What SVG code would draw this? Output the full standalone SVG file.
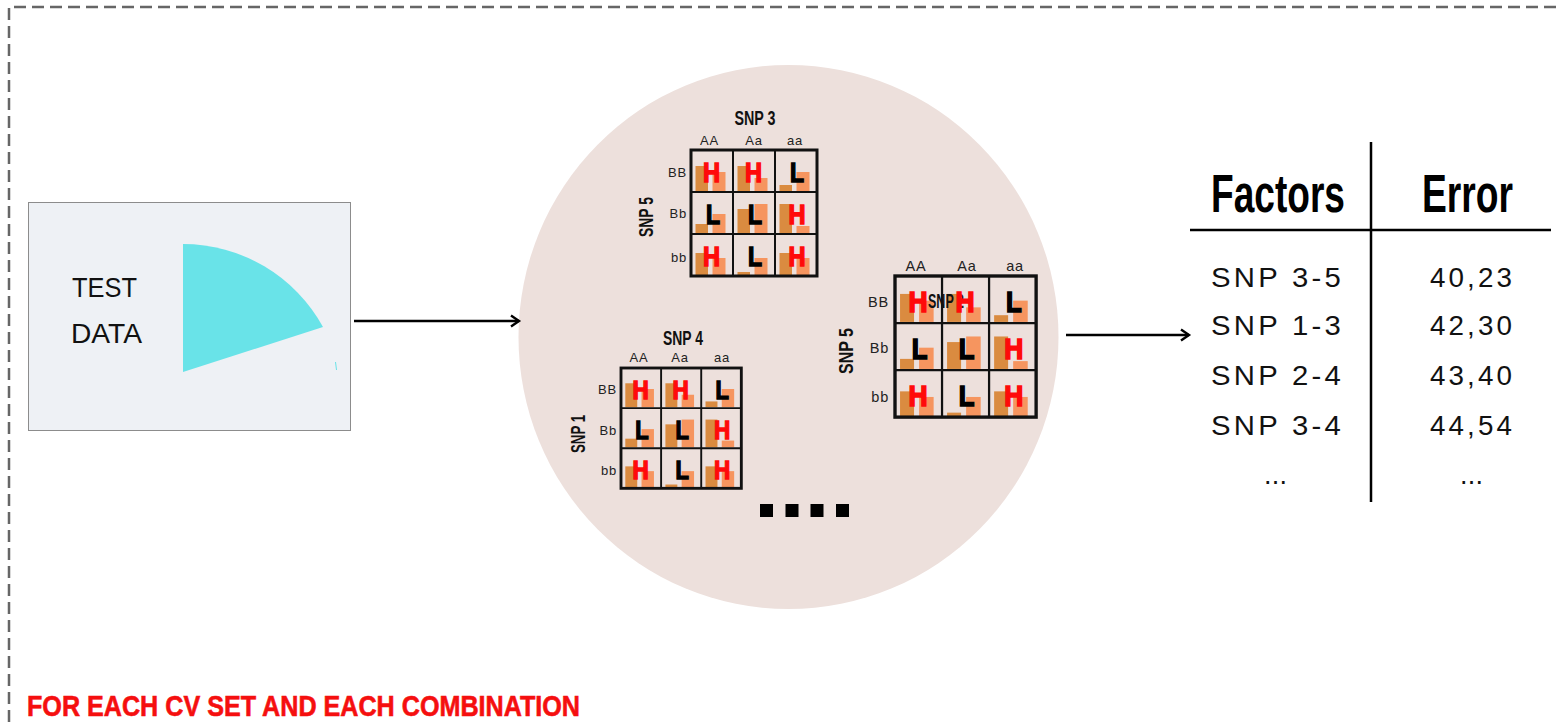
<svg xmlns="http://www.w3.org/2000/svg" xmlns:xlink="http://www.w3.org/1999/xlink" width="1558" height="727" viewBox="0 0 1558 727">
  <style>
    .frame { fill: none; stroke: #666; stroke-width: 2.5; stroke-dasharray: 12 6; }
    .conn { fill: none; stroke: #000; stroke-width: 2.6; }
    .sans { font-family: "Liberation Sans", Arial, sans-serif; }
    .snp { font-family: "Liberation Sans", Arial, sans-serif; font-weight: bold; font-size: 21px; fill: #111; text-anchor: middle; }
    .snp-start { font-family: "Liberation Sans", Arial, sans-serif; font-weight: bold; font-size: 21px; fill: #111; text-anchor: start; }
    .gt { font-family: "Liberation Sans", Arial, sans-serif; font-size: 13px; letter-spacing: 0.8px; fill: #222; }
    .gt3 { font-family: "Liberation Sans", Arial, sans-serif; font-size: 14.5px; letter-spacing: 0.8px; fill: #222; }
    .dark { fill: #da8b40; }
    .light { fill: #f6955f; }
    .hi { font-family: "Liberation Sans", Arial, sans-serif; font-weight: bold; font-size: 27px; fill: #ff0a0a; stroke: #ff0a0a; stroke-width: 1.5; text-anchor: middle; }
    .lo { font-family: "Liberation Sans", Arial, sans-serif; font-weight: bold; font-size: 27px; fill: #000; stroke: #000; stroke-width: 1.5; text-anchor: middle; }
    .head { font-family: "Liberation Sans", Arial, sans-serif; font-weight: bold; font-size: 54px; fill: #000; }
    .cell { font-family: "Liberation Sans", Arial, sans-serif; font-size: 27px; letter-spacing: 3px; fill: #111; }
  </style>
  <defs>
    <marker id="chev" markerUnits="userSpaceOnUse" markerWidth="14" markerHeight="14" refX="11" refY="7" orient="auto">
      <path d="M3,1.5 L11,7 L3,12.5" fill="none" stroke="#000" stroke-width="2.4"/>
    </marker>
    <!-- 3x3 genotype matrix, unit cell 42 -->
    <g id="mx-bars">
      <rect class="dark" x="4.5" y="16" width="12.5" height="25"/>
      <rect class="light" x="21.5" y="22" width="13" height="19"/>
      <rect class="dark" x="46.5" y="16" width="12.5" height="25"/>
      <rect class="light" x="63.5" y="28" width="13" height="13"/>
      <rect class="dark" x="88.5" y="35" width="12.5" height="6"/>
      <rect class="light" x="105.5" y="22" width="13" height="19"/>

      <rect class="dark" x="4.5" y="74" width="12.5" height="9"/>
      <rect class="light" x="21.5" y="64" width="13" height="19"/>
      <rect class="dark" x="46.5" y="59" width="12.5" height="24"/>
      <rect class="light" x="63.5" y="54" width="13" height="29"/>
      <rect class="dark" x="88.5" y="54" width="12.5" height="29"/>
      <rect class="light" x="105.5" y="76" width="13" height="7"/>

      <rect class="dark" x="4.5" y="103" width="12.5" height="22"/>
      <rect class="light" x="21.5" y="108" width="13" height="17"/>
      <rect class="dark" x="46.5" y="122" width="12.5" height="3"/>
      <rect class="light" x="63.5" y="108" width="13" height="17"/>
      <rect class="dark" x="88.5" y="103" width="12.5" height="22"/>
      <rect class="light" x="105.5" y="108" width="13" height="17"/>

      <g fill="none" stroke="#111">
        <rect x="0" y="0" width="126" height="126" stroke-width="3"/>
        <path d="M42,0 V126 M84,0 V126 M0,42 H126 M0,84 H126" stroke-width="2"/>
      </g>
    </g>
    <g id="mx-letters">
      <text class="hi" x="20.5" y="32" textLength="17" lengthAdjust="spacingAndGlyphs">H</text>
      <text class="hi" x="62.5" y="32" textLength="17" lengthAdjust="spacingAndGlyphs">H</text>
      <text class="lo" x="106" y="32" textLength="14" lengthAdjust="spacingAndGlyphs">L</text>
      <text class="lo" x="22" y="74" textLength="14" lengthAdjust="spacingAndGlyphs">L</text>
      <text class="lo" x="64" y="74" textLength="14" lengthAdjust="spacingAndGlyphs">L</text>
      <text class="hi" x="106" y="74" textLength="17" lengthAdjust="spacingAndGlyphs">H</text>
      <text class="hi" x="20.5" y="116" textLength="17" lengthAdjust="spacingAndGlyphs">H</text>
      <text class="lo" x="64" y="116" textLength="14" lengthAdjust="spacingAndGlyphs">L</text>
      <text class="hi" x="106" y="116" textLength="17" lengthAdjust="spacingAndGlyphs">H</text>
    </g>
  </defs>

  <rect width="1558" height="727" fill="#fff"/>
  <!-- dashed outer frame, open to the right and bottom -->
  <path class="frame" d="M9,740 V7 H1570"/>

  <!-- test data panel -->
  <g id="test-data">
    <rect x="28.5" y="202.5" width="322" height="228" fill="#eef1f5" stroke="#8c8c8c" stroke-width="1"/>
    <text class="sans" x="72" y="297" font-size="28" fill="#111" textLength="65" lengthAdjust="spacingAndGlyphs">TEST</text>
    <text class="sans" x="71" y="343" font-size="28" fill="#111" textLength="71" lengthAdjust="spacingAndGlyphs">DATA</text>
    <path d="M183,244 A160,160 0 0 1 323,327 L183,372 Z" fill="#69e3e8"/>
    <path d="M335.5,362 L336.5,370" stroke="#69e3e8" stroke-width="1"/>
  </g>

  <!-- model space with the genotype matrices -->
  <g id="model-space">
    <ellipse cx="788.5" cy="337" rx="270" ry="272" fill="#ede0dc"/>
  </g>

  <g id="matrix-snp3-snp5">
    <text class="snp" x="755" y="125" textLength="41" lengthAdjust="spacingAndGlyphs">SNP 3</text>
    <text class="gt" x="709.5" y="145" text-anchor="middle">AA</text>
    <text class="gt" x="754" y="145" text-anchor="middle">Aa</text>
    <text class="gt" x="795" y="145" text-anchor="middle">aa</text>
    <text class="gt" x="687" y="177" text-anchor="end">BB</text>
    <text class="gt" x="687" y="218" text-anchor="end">Bb</text>
    <text class="gt" x="687" y="262" text-anchor="end">bb</text>
    <text class="snp" transform="translate(653,217) rotate(-90)" x="0" y="0" textLength="40" lengthAdjust="spacingAndGlyphs">SNP 5</text>
    <g transform="translate(691,150)">
      <use xlink:href="#mx-bars"/>
      <use xlink:href="#mx-letters"/>
    </g>
  </g>

  <g id="matrix-snp4-snp1">
    <text class="snp" x="683" y="345" textLength="40" lengthAdjust="spacingAndGlyphs">SNP 4</text>
    <text class="gt" x="639" y="362" text-anchor="middle">AA</text>
    <text class="gt" x="680" y="362" text-anchor="middle">Aa</text>
    <text class="gt" x="722" y="362" text-anchor="middle">aa</text>
    <text class="gt" x="617" y="394" text-anchor="end">BB</text>
    <text class="gt" x="617" y="435" text-anchor="end">Bb</text>
    <text class="gt" x="617" y="475" text-anchor="end">bb</text>
    <text class="snp" transform="translate(585,434) rotate(-90)" x="0" y="0" textLength="38" lengthAdjust="spacingAndGlyphs">SNP 1</text>
    <g transform="translate(621,368) scale(0.955)">
      <use xlink:href="#mx-bars"/>
      <use xlink:href="#mx-letters"/>
    </g>
  </g>

  <g id="matrix-snp2-snp5">
    <text class="gt3" x="916" y="271" text-anchor="middle">AA</text>
    <text class="gt3" x="967" y="271" text-anchor="middle">Aa</text>
    <text class="gt3" x="1015" y="271" text-anchor="middle">aa</text>
    <text class="gt3" x="889" y="307" text-anchor="end">BB</text>
    <text class="gt3" x="889" y="353" text-anchor="end">Bb</text>
    <text class="gt3" x="889" y="402" text-anchor="end">bb</text>
    <text class="snp" transform="translate(853,351) rotate(-90)" x="0" y="0" textLength="46" lengthAdjust="spacingAndGlyphs">SNP 5</text>
    <g transform="translate(895,276) scale(1.12)">
      <use xlink:href="#mx-bars"/>
    </g>
    <text class="snp-start" x="928" y="308" textLength="36" lengthAdjust="spacingAndGlyphs">SNP 2</text>
    <g transform="translate(895,276) scale(1.12)">
      <use xlink:href="#mx-letters"/>
    </g>
  </g>

  <!-- more combinations -->
  <g id="ellipsis" fill="#000">
    <rect x="760" y="504" width="13" height="13"/>
    <rect x="785.5" y="504" width="13" height="13"/>
    <rect x="810.5" y="504" width="13" height="13"/>
    <rect x="836" y="504" width="13" height="13"/>
  </g>

  <!-- ranking table -->
  <g id="error-table">
    <path d="M1371,142 V502" stroke="#000" stroke-width="2.5"/>
    <path d="M1190,230 H1551" stroke="#000" stroke-width="2.5"/>
    <text class="head" x="1211" y="212" textLength="134" lengthAdjust="spacingAndGlyphs">Factors</text>
    <text class="head" x="1422" y="212" textLength="91" lengthAdjust="spacingAndGlyphs">Error</text>
    <text class="cell" x="1211" y="287" textLength="133" lengthAdjust="spacingAndGlyphs">SNP 3-5</text>
    <text class="cell" x="1211" y="335" textLength="133" lengthAdjust="spacingAndGlyphs">SNP 1-3</text>
    <text class="cell" x="1211" y="385" textLength="133" lengthAdjust="spacingAndGlyphs">SNP 2-4</text>
    <text class="cell" x="1211" y="435" textLength="133" lengthAdjust="spacingAndGlyphs">SNP 3-4</text>
    <text class="cell" x="1430" y="287" textLength="85" lengthAdjust="spacingAndGlyphs">40,23</text>
    <text class="cell" x="1430" y="335" textLength="85" lengthAdjust="spacingAndGlyphs">42,30</text>
    <text class="cell" x="1430" y="385" textLength="85" lengthAdjust="spacingAndGlyphs">43,40</text>
    <text class="cell" x="1430" y="435" textLength="85" lengthAdjust="spacingAndGlyphs">44,54</text>
    <text class="cell" x="1264" y="484" textLength="26">...</text>
    <text class="cell" x="1460" y="484" textLength="26">...</text>
  </g>

  <g id="connectors">
    <path class="conn" d="M354,321 H519" marker-end="url(#chev)"/>
    <path class="conn" d="M1066,335 H1189" marker-end="url(#chev)"/>
  </g>

  <text id="caption" class="sans" x="27" y="716" font-size="29" font-weight="bold" fill="#f50f0f" stroke="#f50f0f" stroke-width="0.6" textLength="553" lengthAdjust="spacingAndGlyphs">FOR EACH CV SET AND EACH COMBINATION</text>
</svg>
